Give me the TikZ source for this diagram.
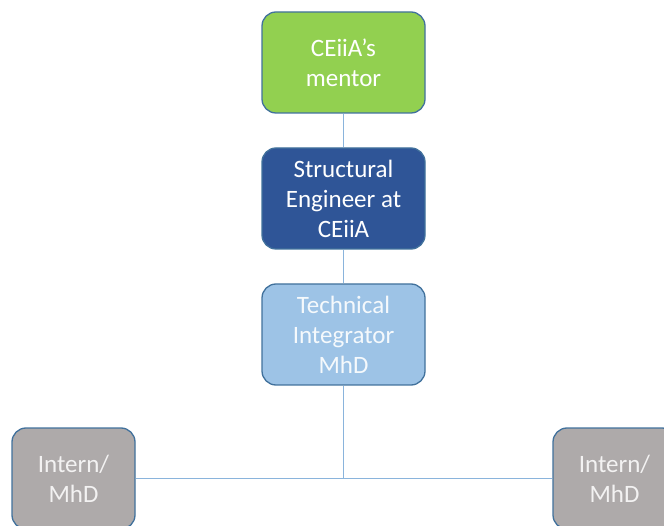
\documentclass[tikz,border=0pt]{standalone}
\usepackage{fontspec}
\setmainfont{Carlito}
\definecolor{cgreen}{HTML}{92D050}
\definecolor{cdark}{HTML}{2F5597}
\definecolor{clight}{HTML}{9DC3E6}
\definecolor{cgray}{HTML}{AEAAAA}
\definecolor{cborder}{HTML}{41719C}
\definecolor{cline}{HTML}{8AB4DC}
\begin{document}
\begin{tikzpicture}[x=1pt,y=-1pt,
  box/.style={draw=cborder, line width=1.3pt, rounded corners=14pt, minimum width=163pt, minimum height=101pt,
    inner sep=0pt, text=white, align=center, font=\fontsize{25}{30}\selectfont},
  small/.style={box, minimum width=123pt},
  conn/.style={draw=cline, line width=1.2pt}]
\useasboundingbox (0,0) rectangle (664,526);
\clip (0,0) rectangle (664,526);
\node[box, fill=cgreen] (m) at (343.5,62.5) {CEiiA’s\\mentor};
\node[box, fill=cdark] (s) at (343.5,198.5) {Structural\\Engineer at\\CEiiA};
\node[box, fill=clight, text=white!90!clight] (t) at (343.5,334.5) {Technical\\Integrator\\MhD};
\node[small, fill=cgray, text=white!85!cgray] (l) at (73.5,478.5) {Intern/\\MhD};
\node[small, fill=cgray, text=white!85!cgray] (r) at (614.5,478.5) {Intern/\\MhD};
\coordinate (j) at (343.5,478.5);
\draw[conn] (m) -- (s);
\draw[conn] (s) -- (t);
\draw[conn] (t) -- (j);
\draw[conn] (l) -- (r);
\end{tikzpicture}
\end{document}
